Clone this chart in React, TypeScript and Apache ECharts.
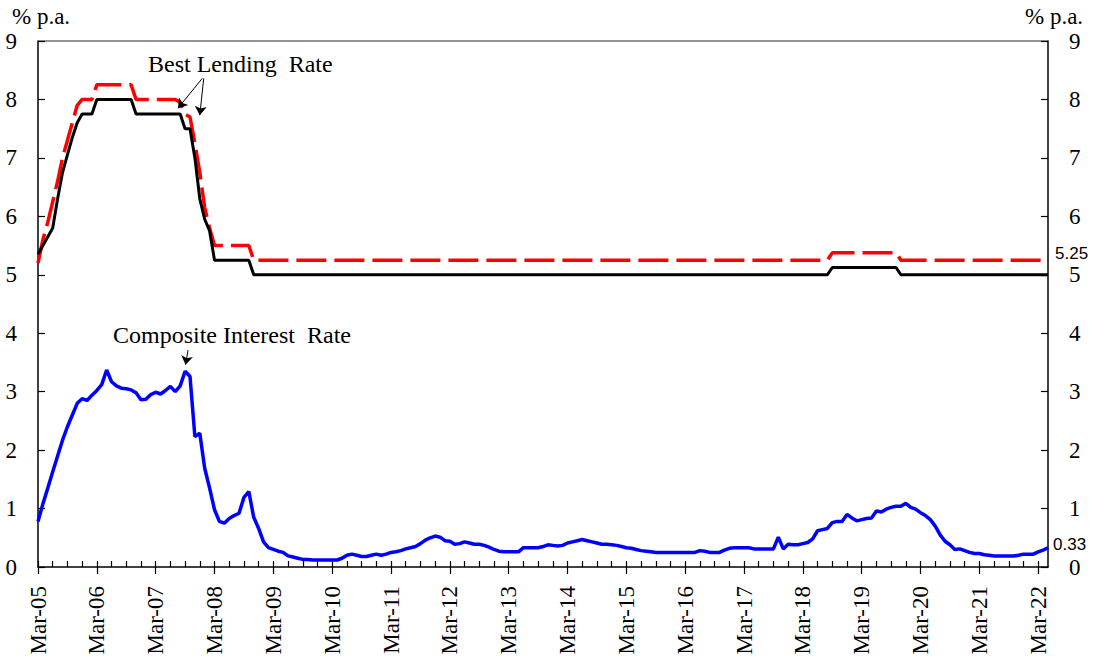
import React, { useEffect, useRef } from "react";
import * as echarts from "echarts";

// Monthly observations, Mar-05 ... May-22 (207 months)
const START_YEAR = 2005;
const START_MONTH = 2; // March (0-based)
const MONTHS = ["Jan", "Feb", "Mar", "Apr", "May", "Jun", "Jul", "Aug", "Sep", "Oct", "Nov", "Dec"];

const blrLow: number[] = [
  5.35, 5.5, 5.65, 5.8, 6.3, 6.75, 7.05, 7.35, 7.6, 7.75, 7.75, 7.75,
  8, 8, 8, 8, 8, 8, 8, 8, 7.75, 7.75, 7.75, 7.75,
  7.75, 7.75, 7.75, 7.75, 7.75, 7.75, 7.5, 7.5, 7.0, 6.3, 5.95, 5.75,
  5.25, 5.25, 5.25, 5.25, 5.25, 5.25, 5.25, 5.25, 5, 5, 5, 5,
  5, 5, 5, 5, 5, 5, 5, 5, 5, 5, 5, 5,
  5, 5, 5, 5, 5, 5, 5, 5, 5, 5, 5, 5,
  5, 5, 5, 5, 5, 5, 5, 5, 5, 5, 5, 5,
  5, 5, 5, 5, 5, 5, 5, 5, 5, 5, 5, 5,
  5, 5, 5, 5, 5, 5, 5, 5, 5, 5, 5, 5,
  5, 5, 5, 5, 5, 5, 5, 5, 5, 5, 5, 5,
  5, 5, 5, 5, 5, 5, 5, 5, 5, 5, 5, 5,
  5, 5, 5, 5, 5, 5, 5, 5, 5, 5, 5, 5,
  5, 5, 5, 5, 5, 5, 5, 5, 5, 5, 5, 5,
  5, 5, 5, 5, 5, 5, 5.125, 5.125, 5.125, 5.125, 5.125, 5.125,
  5.125, 5.125, 5.125, 5.125, 5.125, 5.125, 5.125, 5.125, 5, 5, 5, 5,
  5, 5, 5, 5, 5, 5, 5, 5, 5, 5, 5, 5,
  5, 5, 5, 5, 5, 5, 5, 5, 5, 5, 5, 5,
  5, 5, 5,
];

const blrHigh: number[] = [
  5.2, 5.6, 5.9, 6.25, 6.6, 7.0, 7.3, 7.6, 7.9, 8, 8, 8,
  8.25, 8.25, 8.25, 8.25, 8.25, 8.25, 8.25, 8.25, 8, 8, 8, 8,
  8, 8, 8, 8, 8, 7.95, 7.75, 7.7, 7.25, 6.75, 6.15, 5.8,
  5.5, 5.5, 5.5, 5.5, 5.5, 5.5, 5.5, 5.5, 5.25, 5.25, 5.25, 5.25,
  5.25, 5.25, 5.25, 5.25, 5.25, 5.25, 5.25, 5.25, 5.25, 5.25, 5.25, 5.25,
  5.25, 5.25, 5.25, 5.25, 5.25, 5.25, 5.25, 5.25, 5.25, 5.25, 5.25, 5.25,
  5.25, 5.25, 5.25, 5.25, 5.25, 5.25, 5.25, 5.25, 5.25, 5.25, 5.25, 5.25,
  5.25, 5.25, 5.25, 5.25, 5.25, 5.25, 5.25, 5.25, 5.25, 5.25, 5.25, 5.25,
  5.25, 5.25, 5.25, 5.25, 5.25, 5.25, 5.25, 5.25, 5.25, 5.25, 5.25, 5.25,
  5.25, 5.25, 5.25, 5.25, 5.25, 5.25, 5.25, 5.25, 5.25, 5.25, 5.25, 5.25,
  5.25, 5.25, 5.25, 5.25, 5.25, 5.25, 5.25, 5.25, 5.25, 5.25, 5.25, 5.25,
  5.25, 5.25, 5.25, 5.25, 5.25, 5.25, 5.25, 5.25, 5.25, 5.25, 5.25, 5.25,
  5.25, 5.25, 5.25, 5.25, 5.25, 5.25, 5.25, 5.25, 5.25, 5.25, 5.25, 5.25,
  5.25, 5.25, 5.25, 5.25, 5.25, 5.25, 5.375, 5.375, 5.375, 5.375, 5.375, 5.375,
  5.375, 5.375, 5.375, 5.375, 5.375, 5.375, 5.375, 5.375, 5.25, 5.25, 5.25, 5.25,
  5.25, 5.25, 5.25, 5.25, 5.25, 5.25, 5.25, 5.25, 5.25, 5.25, 5.25, 5.25,
  5.25, 5.25, 5.25, 5.25, 5.25, 5.25, 5.25, 5.25, 5.25, 5.25, 5.25, 5.25,
  5.25, 5.25, 5.25,
];

const composite: number[] = [
  0.78, 1.08, 1.35, 1.63, 1.9, 2.17, 2.4, 2.6, 2.8, 2.88, 2.85, 2.94,
  3.02, 3.12, 3.37, 3.17, 3.1, 3.06, 3.05, 3.03, 2.98, 2.86, 2.87, 2.95,
  2.99, 2.96, 3.02, 3.09, 3.0, 3.1, 3.35, 3.26, 2.23, 2.29, 1.69, 1.35,
  0.98, 0.78, 0.75, 0.83, 0.88, 0.92, 1.19, 1.29, 0.85, 0.66, 0.43, 0.33,
  0.3, 0.27, 0.25, 0.19, 0.17, 0.15, 0.13, 0.13, 0.12, 0.12, 0.12, 0.12,
  0.12, 0.12, 0.15, 0.2, 0.22, 0.2, 0.18, 0.18, 0.2, 0.22, 0.2, 0.22,
  0.25, 0.26, 0.28, 0.31, 0.33, 0.35, 0.4, 0.46, 0.5, 0.53, 0.51, 0.45,
  0.44, 0.39, 0.4, 0.43, 0.41, 0.39, 0.39, 0.37, 0.34, 0.3, 0.27, 0.26,
  0.26, 0.26, 0.26, 0.33, 0.33, 0.33, 0.33, 0.35, 0.38, 0.37, 0.36, 0.37,
  0.41, 0.43, 0.45, 0.47, 0.45, 0.43, 0.41, 0.39, 0.39, 0.38, 0.37, 0.35,
  0.33, 0.32, 0.3, 0.28, 0.27, 0.26, 0.25, 0.25, 0.25, 0.25, 0.25, 0.25,
  0.25, 0.25, 0.25, 0.28, 0.27, 0.25, 0.25, 0.25, 0.29, 0.32, 0.33, 0.33,
  0.33, 0.33, 0.31, 0.31, 0.31, 0.31, 0.31, 0.51, 0.31, 0.39, 0.38, 0.38,
  0.4, 0.42, 0.48, 0.62, 0.64, 0.66, 0.76, 0.78, 0.78, 0.9, 0.84, 0.79,
  0.81, 0.83, 0.84, 0.96, 0.94, 0.99, 1.02, 1.04, 1.04, 1.09, 1.02, 0.99,
  0.93, 0.88, 0.81, 0.7, 0.55, 0.44, 0.38, 0.3, 0.31, 0.28, 0.25, 0.23,
  0.23, 0.21, 0.2, 0.19, 0.19, 0.19, 0.19, 0.19, 0.2, 0.22, 0.22, 0.22,
  0.26, 0.29, 0.33,
];

const categories: string[] = composite.map((_, i) => {
  const m = START_MONTH + i;
  const y = START_YEAR + Math.floor(m / 12);
  return `${MONTHS[m % 12]}-${String(y % 100).padStart(2, "0")}`;
});

// annotation arrows: [monthIndex, value] from -> to
const arrowLines = [
  [[33.5, 8.36], [28.55, 7.85]],
  [[33.8, 8.36], [33.0, 7.73]],
  [[30.6, 3.71], [30.1, 3.46]],
];

const SERIF = "'Liberation Serif', 'Times New Roman', serif";
const SANS = "'Liberation Sans', Arial, sans-serif";

export default function App() {
  const ref = useRef<HTMLDivElement>(null);

  useEffect(() => {
    if (!ref.current) return;
    const chart = echarts.init(ref.current, undefined, { renderer: "svg" });
    const lastIdx = categories.length - 1;

    const yAxisCommon = {
      type: "value",
      min: 0,
      max: 9,
      interval: 1,
      splitLine: { show: false },
      axisLine: { show: true, lineStyle: { color: "#000", width: 1.5 } },
      axisTick: { show: true, inside: true, length: 7, lineStyle: { color: "#000", width: 1.2 } },
      axisLabel: { fontFamily: SERIF, fontSize: 23, color: "#000", margin: 21 },
    };

    chart.setOption({
      animation: false,
      backgroundColor: "#fff",
      grid: { left: 38, right: 48, top: 41, bottom: 95, containLabel: false },
      xAxis: [
        {
          type: "category",
          data: categories,
          boundaryGap: false,
          position: "bottom",
          axisLine: { show: true, onZero: false, lineStyle: { color: "#000", width: 1.5 } },
          axisTick: {
            show: true,
            inside: true,
            length: 6,
            interval: (i: number) => i % 3 === 0,
            lineStyle: { color: "#000", width: 1.2 },
          },
          axisLabel: { show: false },
          splitLine: { show: false },
        },
        {
          type: "category",
          data: categories,
          boundaryGap: false,
          position: "bottom",
          axisLine: { show: false, onZero: false },
          axisTick: {
            show: true,
            inside: false,
            length: 7,
            interval: (i: number) => i % 12 === 0,
            lineStyle: { color: "#000", width: 1.2 },
          },
          axisLabel: {
            show: true,
            interval: (i: number) => i % 12 === 0,
            rotate: 90,
            margin: 19,
            fontFamily: SERIF,
            fontSize: 23,
            color: "#000",
          },
          splitLine: { show: false },
        },
        {
          type: "category",
          data: categories,
          boundaryGap: false,
          position: "top",
          axisLine: { show: true, onZero: false, lineStyle: { color: "#707070", width: 1.5 } },
          axisTick: { show: false },
          axisLabel: { show: false },
          splitLine: { show: false },
        },
        {
          type: "value",
          min: 0,
          max: lastIdx,
          show: false,
          position: "bottom",
          splitLine: { show: false },
        },
      ],
      yAxis: [
        { ...yAxisCommon, position: "left" },
        { ...yAxisCommon, position: "right" },
      ],
      series: [
        {
          name: "Best Lending Rate (high)",
          type: "line",
          data: blrHigh,
          xAxisIndex: 0,
          yAxisIndex: 0,
          showSymbol: false,
          symbol: "none",
          lineStyle: { color: "#ff0000", width: 3.5, type: [30, 8] },
          z: 3,
          endLabel: {
            show: true,
            formatter: (p: any) => Number(p.value).toFixed(2),
            fontFamily: SANS,
            fontSize: 17,
            color: "#000",
            distance: 7,
            offset: [0, -7],
          },
        },
        {
          name: "Best Lending Rate (low)",
          type: "line",
          data: blrLow,
          xAxisIndex: 0,
          yAxisIndex: 0,
          showSymbol: false,
          symbol: "none",
          lineStyle: { color: "#000", width: 3 },
          z: 4,
        },
        {
          name: "Composite Interest Rate",
          type: "line",
          data: composite,
          xAxisIndex: 0,
          yAxisIndex: 0,
          showSymbol: false,
          symbol: "none",
          lineStyle: { color: "#0000ff", width: 3.5 },
          z: 5,
          endLabel: {
            show: true,
            formatter: (p: any) => Number(p.value).toFixed(2),
            fontFamily: SANS,
            fontSize: 17,
            color: "#000",
            distance: 5,
            offset: [0, -3],
          },
        },
        {
          name: "arrows",
          type: "lines",
          coordinateSystem: "cartesian2d",
          xAxisIndex: 3,
          yAxisIndex: 0,
          symbol: ["none", "arrow"],
          symbolSize: 9,
          silent: true,
          lineStyle: { color: "#000", width: 1, opacity: 1, curveness: 0 },
          data: arrowLines.map((c) => ({ coords: c })),
          z: 6,
        },
      ],
      graphic: [
        {
          type: "text",
          left: 12,
          top: 5,
          style: { text: "% p.a.", font: `23px ${SERIF}`, fill: "#000" },
        },
        {
          type: "text",
          left: 1025,
          top: 5,
          style: { text: "% p.a.", font: `23px ${SERIF}`, fill: "#000" },
        },
        {
          type: "text",
          left: 148,
          top: 52,
          style: { text: "Best Lending  Rate", font: `24px ${SERIF}`, fill: "#000" },
        },
        {
          type: "text",
          left: 113,
          top: 323,
          style: { text: "Composite Interest  Rate", font: `24px ${SERIF}`, fill: "#000" },
        },
      ],
    });

    return () => chart.dispose();
  }, []);

  return (
    <div
      ref={ref}
      style={{ position: "fixed", left: 0, top: 0, width: 1096, height: 662, background: "#fff" }}
    />
  );
}
